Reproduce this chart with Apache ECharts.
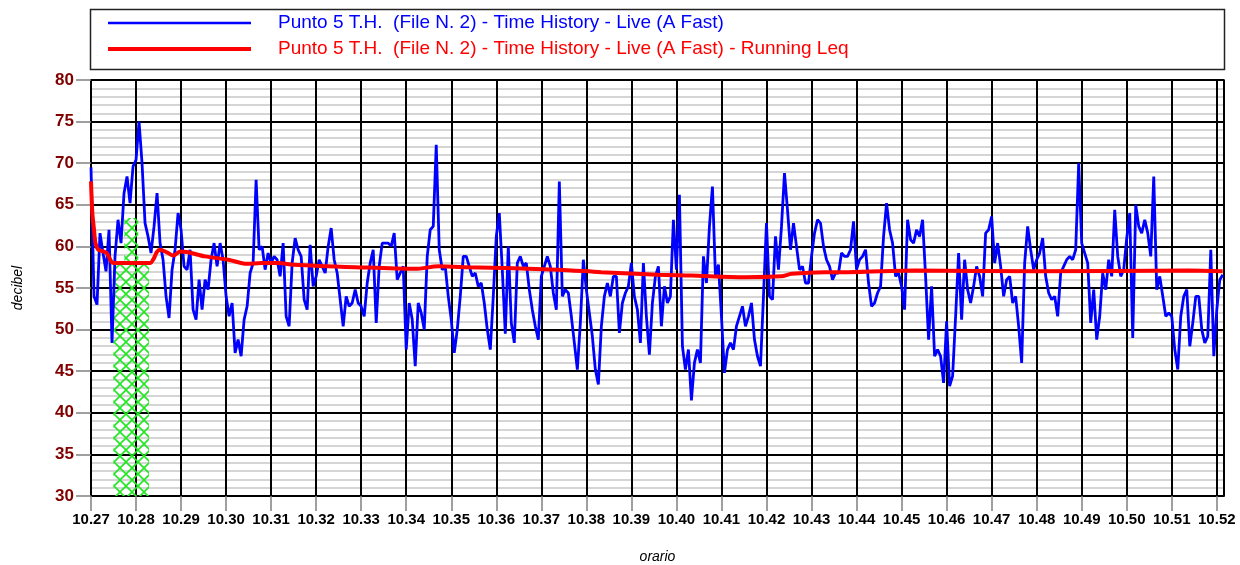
<!DOCTYPE html>
<html>
<head>
<meta charset="utf-8">
<script src="https://cdn.jsdelivr.net/npm/echarts@6/dist/echarts.min.js"></script>
<style>
  html, body { margin: 0; padding: 0; background: #fff; }
  #chart { width: 1240px; height: 565px; }
</style>
</head>
<body>
<div id="chart"></div>
<script>
// time history sampled every 4 s from 10.27
const sampleStep = 4;
const startMinute = 27;
const laFast = [
  69.5, 54.0, 53.0, 61.6, 59.2, 57.0, 62.0, 48.4, 58.8, 63.2,
  60.4, 66.4, 68.4, 65.2, 69.6, 70.4, 75.0, 70.0, 62.8, 61.2,
  59.2, 62.4, 66.4, 60.4, 58.4, 54.0, 51.4, 57.2, 59.6, 64.0,
  62.0, 57.6, 57.2, 59.6, 52.4, 51.2, 56.0, 52.4, 56.0, 54.8,
  58.4, 60.4, 57.6, 60.4, 58.4, 54.0, 51.6, 53.2, 47.2, 48.8,
  46.8, 51.2, 52.8, 56.8, 58.0, 68.0, 59.6, 60.0, 57.2, 59.2,
  58.0, 58.8, 58.4, 56.4, 60.4, 51.6, 50.4, 58.0, 61.0, 59.6,
  58.8, 53.6, 52.4, 60.2, 55.2, 56.4, 58.4, 57.6, 56.8, 60.0,
  62.2, 58.4, 56.8, 53.6, 50.4, 54.0, 52.8, 53.2, 54.8, 53.2,
  52.8, 51.6, 55.6, 58.0, 59.6, 50.8, 57.6, 60.4, 60.4, 60.4,
  60.0, 61.6, 56.0, 56.8, 57.6, 47.6, 53.2, 51.2, 45.6, 53.2,
  52.0, 50.0, 58.8, 62.0, 62.4, 72.2, 59.6, 57.2, 57.6, 54.0,
  51.2, 47.2, 50.0, 54.0, 58.8, 58.8, 57.6, 56.4, 56.8, 55.2,
  55.6, 53.2, 50.0, 47.6, 54.0, 61.2, 64.0, 57.2, 49.5, 60.0,
  50.8, 48.4, 58.0, 58.8, 57.6, 58.0, 54.8, 52.4, 50.4, 48.8,
  56.4, 57.6, 58.8, 57.6, 54.4, 52.4, 67.8, 54.0, 54.8, 54.4,
  51.6, 48.4, 45.2, 50.8, 58.4, 54.8, 52.0, 49.2, 45.2, 43.4,
  50.4, 54.0, 55.6, 54.0, 56.4, 56.4, 49.6, 53.2, 54.4, 55.2,
  58.0, 54.0, 52.4, 48.4, 58.0, 51.6, 47.0, 53.2, 56.4, 57.6,
  50.4, 55.2, 53.2, 54.0, 63.2, 57.2, 66.2, 48.0, 45.2, 47.6,
  41.5, 46.0, 47.6, 46.0, 58.8, 55.6, 62.4, 67.2, 56.4, 57.8,
  51.6, 44.8, 47.6, 48.4, 47.6, 50.4, 51.6, 52.8, 50.4, 51.6,
  53.2, 48.8, 46.8, 45.6, 54.0, 62.8, 54.0, 53.6, 61.2, 57.2,
  62.4, 68.8, 64.4, 59.6, 62.8, 60.0, 57.2, 57.6, 55.6, 55.6,
  58.8, 61.6, 63.2, 62.8, 60.0, 58.4, 57.6, 56.0, 56.8, 56.8,
  59.2, 58.8, 58.8, 59.6, 63.0, 57.2, 58.4, 58.8, 59.6, 55.6,
  52.8, 53.2, 54.4, 55.2, 61.2, 65.2, 62.0, 60.4, 56.4, 56.8,
  55.2, 52.4, 63.2, 60.8, 60.4, 62.0, 61.2, 63.2, 56.4, 48.8,
  55.2, 46.8, 47.6, 46.8, 43.6, 51.0, 43.2, 44.4, 51.6, 59.2,
  51.2, 58.4, 54.8, 53.2, 55.2, 57.6, 56.4, 54.0, 61.6, 62.0,
  63.6, 58.0, 60.4, 57.6, 54.0, 56.0, 56.4, 53.2, 54.0, 50.4,
  46.0, 58.0, 62.4, 59.6, 57.2, 58.4, 59.2, 61.0, 56.4, 54.4,
  53.6, 54.0, 51.6, 56.8, 57.6, 58.4, 58.8, 58.4, 59.6, 70.0,
  60.4, 59.2, 58.0, 50.8, 54.8, 48.8, 51.6, 56.8, 54.8, 58.4,
  56.4, 64.4, 58.8, 56.4, 57.2, 61.0, 64.0, 49.0, 65.0, 62.4,
  61.6, 63.2, 61.6, 58.8, 68.4, 54.8, 56.4, 54.0, 51.6, 52.0,
  51.6, 47.6, 45.2, 51.6, 54.0, 54.8, 48.0, 50.8, 54.0, 54.0,
  50.0, 48.4, 49.2, 59.6, 46.8, 52.4, 56.0, 56.6
];
// running Leq, minutes from 10.27
const leqTimes = [0, 0.03, 0.067, 0.1, 0.16, 0.27, 0.35, 0.46, 0.53, 1.31, 1.39, 1.46, 1.53, 1.68, 1.83, 1.98, 2.16, 2.53, 3.05, 3.46, 3.79, 4.16,
  4.5, 5.87, 7.2, 7.72, 8.39, 10.37, 11.33, 12.59, 13.33, 14.52, 15.33, 15.56, 16.3, 16.81, 18.3, 21.04, 24.37, 25.13];
const leqValues = [67.8, 64.0, 62.0, 60.4, 59.6, 59.4, 59.2, 58.1, 58.0, 58.0, 58.5, 59.3, 59.6, 59.3, 58.9, 59.4, 59.3, 58.8, 58.4, 57.9, 58.0, 58.0,
  57.8, 57.5, 57.3, 57.6, 57.5, 57.2, 56.9, 56.6, 56.5, 56.3, 56.4, 56.7, 56.9, 56.9, 57.1, 57.0, 57.1, 57.0];
// masked interval (green hatch)
const maskTimes = [0.496, 0.74, 1.05, 1.289];
const maskValues = [58.2, 63.4, 58.0, 58.0];

const liveName = 'Punto 5 T.H.  (File N. 2) - Time History - Live (A Fast)';
const leqName = 'Punto 5 T.H.  (File N. 2) - Time History - Live (A Fast) - Running Leq';
const font = "'Liberation Sans', Arial, sans-serif";

function hatchPattern() {
  const c = document.createElement('canvas');
  c.width = 12; c.height = 12;
  const ctx = c.getContext('2d');
  ctx.strokeStyle = '#22e622';
  ctx.lineWidth = 1.6;
  ctx.beginPath();
  ctx.moveTo(0, 0); ctx.lineTo(12, 12);
  ctx.moveTo(12, 0); ctx.lineTo(0, 12);
  ctx.stroke();
  return c;
}

const liveData = laFast.map((v, i) => [i * sampleStep / 60, v]);
const leqData = leqTimes.map((t, i) => [t, leqValues[i]]);
const maskData = maskTimes.map((t, i) => [t, maskValues[i]]);

const chart = echarts.init(document.getElementById('chart'));
chart.setOption({
  animation: false,
  graphic: [{
    type: 'rect', shape: { x: 90.5, y: 9.5, width: 1134, height: 60 },
    style: { fill: '#fff', stroke: '#222', lineWidth: 1.5 }, z: 0
  }],
  legend: {
    orient: 'vertical', left: 103, top: 7, itemWidth: 143, itemHeight: 14, itemGap: 4,
    data: [
      { name: liveName, icon: 'path://M0,0H143V2.5H0Z', textStyle: { color: '#0000ff' } },
      { name: leqName, icon: 'path://M0,0H143V4H0Z', textStyle: { color: '#ff0000' } }
    ],
    textStyle: { fontFamily: font, fontSize: 19, lineHeight: 22, padding: [0, 0, 0, 22] },
    z: 5
  },
  grid: { left: 91, right: 16, top: 80, bottom: 69, outerBoundsMode: 'none', show: true, borderColor: '#000', borderWidth: 1.5 },
  xAxis: {
    type: 'value', min: 0, max: 25.16, interval: 1,
    name: 'orario', nameLocation: 'middle', nameGap: 54,
    nameTextStyle: { fontFamily: font, fontSize: 14, fontStyle: 'italic', color: '#000' },
    axisLine: { lineStyle: { color: '#000', width: 1.5 } },
    axisTick: { show: true, length: 15, lineStyle: { color: '#808080', width: 1.5 } },
    axisLabel: {
      fontFamily: font, fontSize: 15, fontWeight: 'bold', color: '#000', margin: 16,
      formatter: v => '10.' + String(startMinute + Math.round(v)).padStart(2, '0')
    },
    splitLine: { show: true, lineStyle: { color: '#000', width: 2 } }
  },
  yAxis: {
    type: 'value', min: 30, max: 80, interval: 5,
    name: 'decibel', nameLocation: 'middle', nameGap: 66,
    nameTextStyle: { fontFamily: font, fontSize: 14, fontStyle: 'italic', color: '#000' },
    axisLine: { show: true, lineStyle: { color: '#000', width: 1.5 } },
    axisTick: { show: true, length: 15, lineStyle: { color: '#808080', width: 1.5 } },
    axisLabel: { fontFamily: font, fontSize: 17, fontWeight: 'bold', color: '#800000', margin: 17 },
    splitLine: { show: true, lineStyle: { color: '#000', width: 2 } },
    minorTick: { show: false, splitNumber: 5 },
    minorSplitLine: { show: true, lineStyle: { color: '#c8c8c8', width: 1.5 } }
  },
  series: [
    {
      name: 'mask', type: 'line', step: 'end', data: maskData, symbol: 'none',
      lineStyle: { width: 0 }, areaStyle: { origin: 'start', color: { image: hatchPattern(), repeat: 'repeat' }, opacity: 1 },
      silent: true, z: 1
    },
    {
      name: liveName, type: 'line', data: liveData, symbol: 'none', showSymbol: false,
      lineStyle: { color: '#0000ff', width: 2.8 }, itemStyle: { color: '#0000ff' }, z: 2
    },
    {
      name: leqName, type: 'line', data: leqData, symbol: 'none', showSymbol: false, smooth: 0.3,
      lineStyle: { color: '#ff0000', width: 4 }, itemStyle: { color: '#ff0000' }, z: 3
    }
  ]
});
</script>
</body>
</html>
